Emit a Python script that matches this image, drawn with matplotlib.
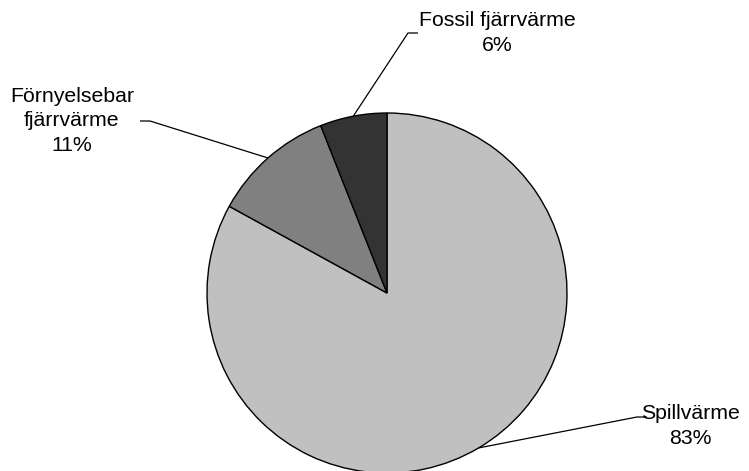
import numpy as np
import matplotlib
matplotlib.use("Agg")
import matplotlib.pyplot as plt

plt.rcParams['font.family'] = ['Liberation Sans', 'DejaVu Sans']

# andelar av värmetillförsel
kategorier = ["Spillvärme", "Förnyelsebar\nfjärrvärme", "Fossil fjärrvärme"]
andelar = [83, 11, 6]
farger = ["#c0c0c0", "#808080", "#333333"]

W, H = 749, 471
fig = plt.figure(figsize=(W / 100, H / 100), dpi=100)
ax = fig.add_axes([0, 0, 1, 1])

cx, cy, r = 387, H - 293, 180
wedges, _ = ax.pie(andelar, colors=farger, startangle=90, counterclock=False,
                   center=(cx, cy), radius=r, frame=True,
                   wedgeprops=dict(edgecolor="black", linewidth=1.0))

# etikettplacering: (knä, linjeslut, textcentrum)
etiketter = [
    ((637, 417), (647, 417), (690, 426)),
    ((150, 121), (140, 121), (72, 121)),
    ((408, 33), (418, 33), (497, 33)),
]

for w, kat, val, (knä, slut, txt) in zip(wedges, kategorier, andelar, etiketter):
    mid = np.deg2rad((w.theta1 + w.theta2) / 2)
    x0, y0 = cx + r * np.cos(mid), cy + r * np.sin(mid)
    xs = [x0, knä[0], slut[0]]
    ys = [y0, H - knä[1], H - slut[1]]
    ax.plot(xs, ys, color="black", linewidth=0.9, solid_capstyle="butt")
    ax.text(txt[0], H - txt[1], "{}\n{}%".format(kat, val), ha="center", va="center",
            fontsize=15.3, linespacing=1.38, color="black")

ax.set_xlim(0, W)
ax.set_ylim(0, H)
ax.set_aspect("equal")
ax.axis("off")

fig.savefig("out.png", dpi=100)
